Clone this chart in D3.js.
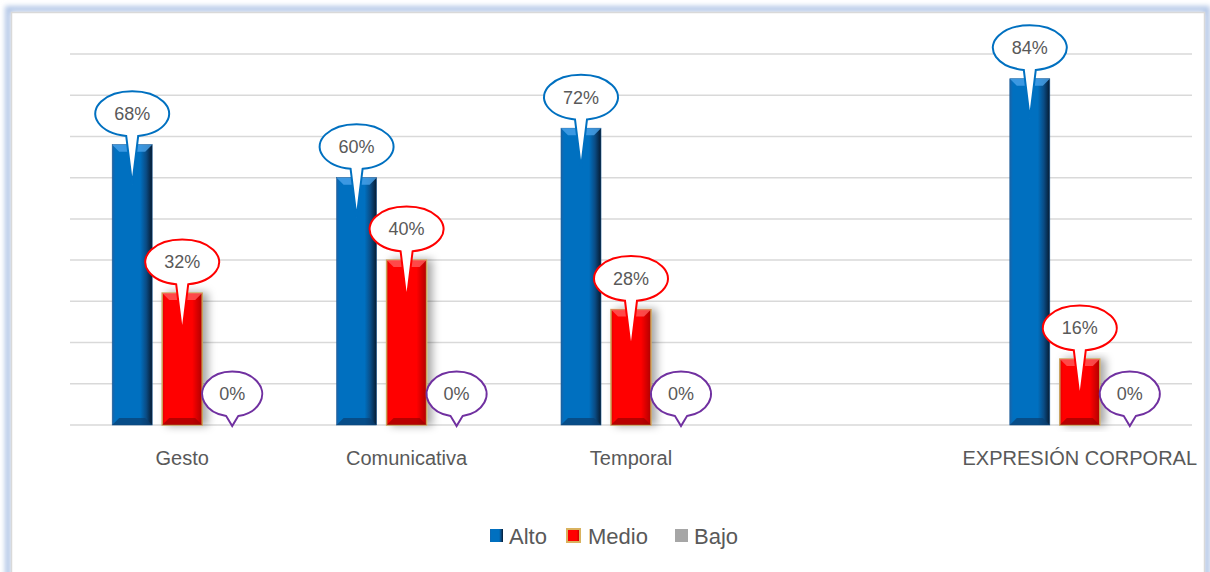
<!DOCTYPE html>
<html lang="es">
<head>
<meta charset="UTF-8">
<title>Expresión corporal</title>
<script src="https://d3js.org/d3.v7.min.js"></script>
<style>
  body { margin: 0; background: #fff; }
  text { font-family: "Liberation Sans", Arial, sans-serif; fill: #595959; }
</style>
</head>
<body>
<script>
// datos
var categories = ["Gesto", "Comunicativa", "Temporal", "", "EXPRESIÓN CORPORAL"];
var series = ["Alto", "Medio", "Bajo"];
var alto  = [0.68, 0.60, 0.72, null, 0.84];
var medio = [0.32, 0.40, 0.28, null, 0.16];
var bajo  = [0.00, 0.00, 0.00, null, 0.00];
var yTicks = [0, 0.1, 0.2, 0.3, 0.4, 0.5, 0.6, 0.7, 0.8, 0.9];

var width = 1210, height = 572;
var values = { Alto: alto, Medio: medio, Bajo: bajo };
var callColor = { Alto: "#0070C0", Medio: "#FF0000", Bajo: "#7030A0" };

var svg = d3.select("body").append("svg")
  .attr("width", width)
  .attr("height", height);

var defs = svg.append("defs");

// marco con brillo azul
var glow = defs.append("filter").attr("id", "glow")
  .attr("x", "-5%").attr("y", "-5%").attr("width", "110%").attr("height", "110%");
glow.append("feGaussianBlur").attr("stdDeviation", 2.5);

svg.append("rect")
  .attr("x", 8).attr("y", 9).attr("width", 1199).attr("height", 600)
  .attr("fill", "none").attr("stroke", "#b4c7e7").attr("stroke-width", 6)
  .attr("filter", "url(#glow)");
svg.append("rect")
  .attr("x", 11.5).attr("y", 12.5).attr("width", 1193).attr("height", 600)
  .attr("fill", "#fff").attr("stroke", "#d9d9d9").attr("stroke-width", 1.5);

// gradientes de las barras
function hGrad(id, stops) {
  var g = defs.append("linearGradient").attr("id", id)
    .attr("x1", "0").attr("x2", "1").attr("y1", "0").attr("y2", "0");
  stops.forEach(function(s) {
    g.append("stop").attr("offset", s[0]).attr("stop-color", s[1]);
  });
}
hGrad("gAlto", [["0", "#1a63a8"], ["0.08", "#0070C0"], ["0.7", "#0070C0"], ["0.85", "#0a4c85"], ["1", "#061a30"]]);
hGrad("gMedio", [["0", "#e00000"], ["0.08", "#ff0000"], ["0.75", "#ff0000"], ["1", "#b00000"]]);
hGrad("gBajo", [["0", "#a6a6a6"], ["1", "#a6a6a6"]]);

var shadow = defs.append("filter").attr("id", "shadow")
  .attr("x", "-20%").attr("y", "-10%").attr("width", "160%").attr("height", "120%");
shadow.append("feDropShadow").attr("dx", 5).attr("dy", 0)
  .attr("stdDeviation", 4).attr("flood-color", "#000").attr("flood-opacity", 0.35);

var x = d3.scaleBand().domain(categories.map(function(d, i) { return i; }))
  .range([70, 1192]);
var xs = d3.scaleBand().domain(series).range([-75, 75])
  .paddingInner(0.2).paddingOuter(0.1);
var y = d3.scaleLinear().domain([0, 0.9]).range([425, 54]);

// lineas de la cuadricula
svg.append("g").selectAll("line")
  .data(yTicks)
  .enter().append("line")
  .attr("x1", 70).attr("x2", 1192)
  .attr("y1", function(d) { return y(d); })
  .attr("y2", function(d) { return y(d); })
  .attr("stroke", "#d9d9d9")
  .attr("stroke-width", 1.5);

// etiquetas de categoria
svg.append("g").selectAll("text")
  .data(categories)
  .enter().append("text")
  .attr("x", function(d, i) { return x(i) + x.bandwidth() / 2; })
  .attr("y", 465)
  .attr("text-anchor", "middle")
  .style("font-size", "20px")
  .text(function(d) { return d; });

// barras
var items = [];
categories.forEach(function(c, i) {
  series.forEach(function(s) {
    var v = values[s][i];
    if (v !== null) items.push({ i: i, s: s, v: v });
  });
});

function bx(d) { return x(d.i) + x.bandwidth() / 2 + xs(d.s); }
var bw = xs.bandwidth();

var bars = svg.append("g").selectAll("g")
  .data(items.filter(function(d) { return d.v > 0; }))
  .enter().append("g");

bars.append("rect")
  .attr("x", bx)
  .attr("y", function(d) { return y(d.v); })
  .attr("width", bw)
  .attr("height", function(d) { return y(0) - y(d.v); })
  .attr("fill", function(d) { return "url(#g" + d.s + ")"; })
  .attr("stroke", function(d) { return d.s === "Medio" ? "#c9a35a" : "#1d5a94"; })
  .attr("stroke-width", function(d) { return d.s === "Medio" ? 1.5 : 0.6; })
  .attr("filter", function(d) { return d.s === "Medio" ? "url(#shadow)" : null; });

// bisel superior
bars.append("path")
  .attr("d", function(d) {
    var x0 = bx(d), y0 = y(d.v), b = 7;
    return "M" + x0 + "," + y0 + "L" + (x0 + bw) + "," + y0 +
      "L" + (x0 + bw - b) + "," + (y0 + b) + "L" + (x0 + b) + "," + (y0 + b) + "Z";
  })
  .attr("fill", function(d) { return d.s === "Alto" ? "#4aa3ea" : "#ff5a5a"; })
  .attr("opacity", 0.8);

// bisel inferior
bars.append("path")
  .attr("d", function(d) {
    var x0 = bx(d), y0 = y(0), b = 7;
    return "M" + x0 + "," + y0 + "L" + (x0 + bw) + "," + y0 +
      "L" + (x0 + bw - b) + "," + (y0 - b) + "L" + (x0 + b) + "," + (y0 - b) + "Z";
  })
  .attr("fill", function(d) { return d.s === "Alto" ? "#0a3f70" : "#9a0000"; })
  .attr("opacity", 0.7);

// globos de etiqueta
function callout(cx, cy, rx, ry, tipX, tipY, half) {
  var t = Math.asin(Math.min(half / rx, 1));
  var lx = cx - half, rxp = cx + half;
  var by = cy + ry * Math.cos(t);
  return "M" + lx + "," + by +
    "A" + rx + "," + ry + " 0 1,1 " + rxp + "," + by +
    "L" + tipX + "," + tipY + "Z";
}

var labels = svg.append("g").selectAll("g")
  .data(items)
  .enter().append("g");

labels.append("path")
  .attr("d", function(d) {
    var cx = bx(d) + bw / 2;
    var cy = y(d.v) - 31;
    var rx = d.v > 0 ? 37 : 30;
    var tip = Math.min(y(d.v) + 40, y(0) + 1);
    return callout(cx, cy, rx, 22.5, cx, tip, 6);
  })
  .attr("fill", "#fff")
  .attr("stroke", function(d) { return callColor[d.s]; })
  .attr("stroke-width", 2);

labels.append("text")
  .attr("x", function(d) { return bx(d) + bw / 2; })
  .attr("y", function(d) { return y(d.v) - 31; })
  .attr("dy", "0.35em")
  .attr("text-anchor", "middle")
  .style("font-size", "18px")
  .text(function(d) { return d3.format(".0%")(d.v); });

// leyenda
var legendX = [490, 567, 675];
var leg = svg.append("g").selectAll("g")
  .data(series)
  .enter().append("g")
  .attr("transform", function(d, i) { return "translate(" + legendX[i] + ",529)"; });

leg.append("rect")
  .attr("width", 13).attr("height", 13)
  .attr("fill", function(d) { return "url(#g" + d + ")"; })
  .attr("stroke", function(d) { return d === "Medio" ? "#d9b25f" : "none"; })
  .attr("stroke-width", 2);

leg.append("text")
  .attr("x", function(d, i) { return i === 1 ? 21 : 19; })
  .attr("y", 7)
  .attr("dy", "0.35em")
  .style("font-size", "22px")
  .text(function(d) { return d; });
</script>
</body>
</html>
